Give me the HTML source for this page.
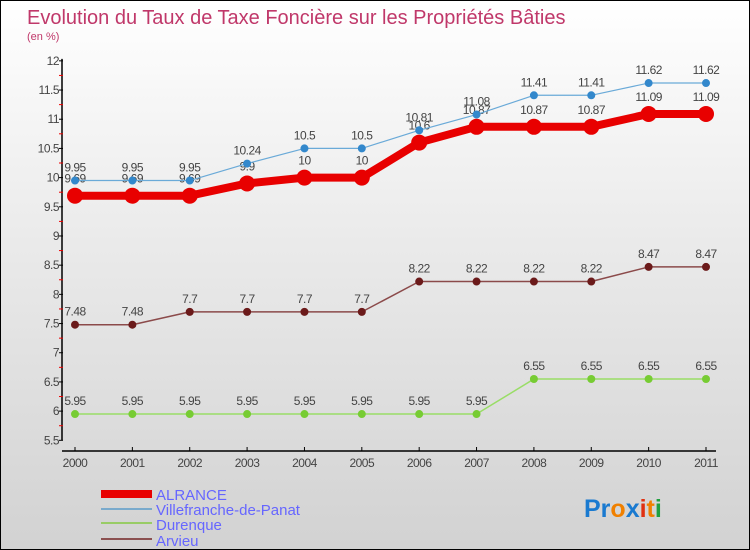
<!DOCTYPE html>
<html><head><meta charset="utf-8"><style>
body{margin:0}
#wrap{width:748px;height:548px;border:1px solid #000;position:relative;overflow:hidden;background:linear-gradient(#ffffff 0%,#ececec 40%,#d2d2d2 100%);font-family:"Liberation Sans",sans-serif}
svg text{font-family:"Liberation Sans",sans-serif}
</style></head><body>
<div id="wrap">
<svg id="c" width="748" height="548">
<text x="26" y="23" font-size="20" fill="#c0386a">Evolution du Taux de Taxe Foncière sur les Propriétés Bâties</text>
<text x="26" y="39" font-size="11" fill="#c0386a">(en %)</text>
<g id="axes"></g><g id="series"></g>
<g>
<rect x="100" y="489" width="51" height="8" fill="#e80000"/>
<text x="155" y="499" font-size="15" fill="#6666ff">ALRANCE</text>
<rect x="100" y="507" width="51" height="2" fill="#7aaacc"/>
<text x="155" y="514" font-size="15" fill="#6666ff">Villefranche-de-Panat</text>
<rect x="100" y="521" width="51" height="2" fill="#99cc66"/>
<text x="155" y="529" font-size="15" fill="#6666ff">Durenque</text>
<rect x="100" y="537" width="51" height="2" fill="#8b5050"/>
<text x="155" y="545" font-size="15" fill="#6666ff">Arvieu</text>
</g>
<text x="583" y="516" font-size="25" font-weight="bold"><tspan fill="#1a7ad0">Pr</tspan><tspan fill="#f08000">o</tspan><tspan fill="#1a7ad0">x</tspan><tspan fill="#e03010">i</tspan><tspan fill="#f08000">t</tspan><tspan fill="#20a040">i</tspan></text>
</svg>
</div>
<script>
const years=["2000","2001","2002","2003","2004","2005","2006","2007","2008","2009","2010","2011"];
const alrance=[9.69,9.69,9.69,9.9,10,10,10.6,10.87,10.87,10.87,11.09,11.09];
const villefranche=[9.95,9.95,9.95,10.24,10.5,10.5,10.81,11.08,11.41,11.41,11.62,11.62];
const durenque=[5.95,5.95,5.95,5.95,5.95,5.95,5.95,5.95,6.55,6.55,6.55,6.55];
const arvieu=[7.48,7.48,7.7,7.7,7.7,7.7,8.22,8.22,8.22,8.22,8.47,8.47];
const yTicks=["5.5","6","6.5","7","7.5","8","8.5","9","9.5","10","10.5","11","11.5","12"];
const NS="http://www.w3.org/2000/svg";
function X(i){return 74+i*(705-74)/11;}
function Y(v){return 176.6-(v-10)*58.38;}
function mk(t,a,p){const e=document.createElementNS(NS,t);for(const k in a)e.setAttribute(k,a[k]);p.appendChild(e);return e;}
const ax=document.getElementById('axes');
const yl=mk('line',{x1:61,y1:Y(12)-2,x2:61,y2:Y(5.5),stroke:'#000','stroke-width':1.5},ax);


yTicks.forEach(t=>{const v=parseFloat(t);
 mk('line',{x1:58,y1:Y(v),x2:62,y2:Y(v),stroke:'#000'},ax);
 if(v<12) mk('line',{x1:58,y1:Y(v+0.25),x2:62,y2:Y(v+0.25),stroke:'#e00'},ax);
 const tx=mk('text',{x:58,y:Y(v)+4,'font-size':12,fill:'#444','text-anchor':'end','letter-spacing':'-0.5'},ax);tx.textContent=t;
 
 
});
const xl=mk('line',{x1:61,y1:450,x2:715,y2:450,stroke:'#000','stroke-width':1.5},ax);


years.forEach((y,i)=>{mk('line',{x1:X(i),y1:446,x2:X(i),y2:450,stroke:'#000'},ax);
 const tx=mk('text',{x:X(i),y:466,'font-size':12,fill:'#444','text-anchor':'middle','letter-spacing':'-0.5'},ax);tx.textContent=y;
 
 
});
const sg=document.getElementById('series');
function series(name,vals,color,dot,lw,r){
 const g=mk('g',{},sg);
 
 
 mk('polyline',{points:vals.map((v,i)=>X(i)+','+Y(v)).join(' '),fill:'none',stroke:color,'stroke-width':lw,'stroke-linejoin':'round'},g);
 vals.forEach((v,i)=>{const c=mk('circle',{cx:X(i),cy:Y(v),r:r,fill:dot},g);
  
  
  const t=mk('text',{x:X(i),y:Y(v)-(r+5),'font-size':12,fill:'#444','text-anchor':'middle','letter-spacing':'-0.5'},g);t.textContent=String(v);
  
  
 });
}
series('arvieu',arvieu,'#8b4a4a','#6b1a1a',1.5,4);
series('durenque',durenque,'#99dd66','#77cc33',1.5,4);
series('alrance',alrance,'#e80000','#e80000',8,8);
series('villefranche',villefranche,'#6aaad8','#3388cc',1.2,4);
</script>
</body></html>
